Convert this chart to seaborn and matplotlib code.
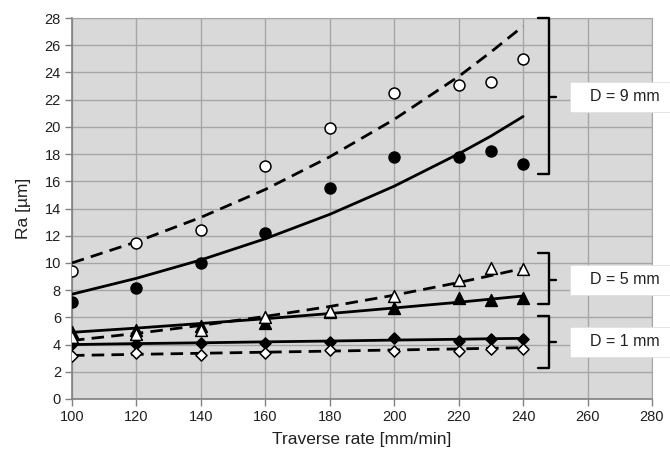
import matplotlib
matplotlib.use("Agg")
import matplotlib.pyplot as plt
import seaborn as sns
from matplotlib.patches import Rectangle

# traverse rate [mm/min]
rate = [100, 120, 140, 160, 180, 200, 220, 230, 240]

# measured Ra [um]
d9_open = [9.4, 11.5, 12.45, 17.1, 19.9, 22.5, 23.1, 23.3, 25.0]
d9_filled = [7.15, 8.15, 10.0, 12.2, 15.5, 17.8, 17.75, 18.25, 17.25]
d5_open = [4.55, 4.75, 5.05, 6.0, 6.47, 7.55, 8.75, 9.65, 9.55]
d5_filled = [4.95, 5.1, 5.35, 5.55, 6.42, 6.67, 7.4, 7.28, 7.42]
d1_open = [3.18, 3.36, 3.26, 3.4, 3.62, 3.5, 3.56, 3.7, 3.68]
d1_filled = [4.02, 4.02, 4.1, 4.14, 4.17, 4.5, 4.26, 4.4, 4.4]

# trend lines at the same rates
d9_open_fit = [10.0, 11.55, 13.35, 15.4, 17.8, 20.55, 23.7, 25.5, 27.4]
d9_filled_fit = [7.7, 8.87, 10.22, 11.78, 13.57, 15.64, 18.02, 19.32, 20.76]
d5_open_fit = [4.3, 4.82, 5.41, 6.07, 6.8, 7.63, 8.56, 9.07, 9.6]
d5_filled_fit = [4.9, 5.21, 5.55, 5.9, 6.28, 6.69, 7.11, 7.34, 7.57]
d1_open_fit = [3.2, 3.28, 3.36, 3.44, 3.52, 3.6, 3.68, 3.73, 3.77]
d1_filled_fit = [4.0, 4.07, 4.13, 4.2, 4.26, 4.33, 4.39, 4.43, 4.46]

labels = ["D = 9 mm", "D = 5 mm", "D = 1 mm"]
# bracket spans (top, tip, bottom) in Ra units
brackets = [(28.0, 22.2, 16.5), (10.7, 8.75, 7.0), (6.1, 4.2, 2.3)]

sns.set_style("whitegrid", {"axes.facecolor": "#d9d9d9", "grid.color": "#a6a6a6"})
plt.rcParams["font.family"] = ["Liberation Sans", "DejaVu Sans"]

fig = plt.figure(figsize=(6.7, 4.55), dpi=100)
ax = fig.add_axes([72 / 670, 1 - 399 / 455, 580 / 670, 381 / 455])

fits = [
    (d9_open_fit, "--"), (d9_filled_fit, "-"),
    (d5_open_fit, "--"), (d5_filled_fit, "-"),
    (d1_open_fit, "--"), (d1_filled_fit, "-"),
]
for vals, ls in fits:
    sns.lineplot(x=rate, y=vals, ax=ax, color="black", lw=2.0,
                 linestyle=ls, dashes=False, zorder=3)
for ln in ax.get_lines():
    if ln.get_linestyle() == "--":
        ln.set_dashes((4.5, 2.6))

# filled markers first, open ones on top
pts = [
    (d9_filled, "o", "black", 62), (d5_filled, "^", "black", 72),
    (d1_filled, "D", "black", 32),
    (d9_open, "o", "white", 62), (d5_open, "^", "white", 72),
    (d1_open, "D", "white", 32),
]
for vals, mk, fc, s in pts:
    sns.scatterplot(x=rate, y=vals, ax=ax, marker=mk, s=s, color=fc,
                    edgecolor="black", linewidth=1.1, zorder=4)

ax.set_xlim(100, 280)
ax.set_ylim(0, 28)
ax.set_xticks(range(100, 281, 20))
ax.set_yticks(range(0, 29, 2))
ax.grid(True, color="#a6a6a6", lw=1)
ax.tick_params(axis="both", labelsize=10.5, length=5, width=1,
               color="#808080", labelcolor="#202020", pad=3,
               left=True, bottom=True)
for side in ["top", "right"]:
    ax.spines[side].set_color("#a6a6a6")
for side in ["left", "bottom"]:
    ax.spines[side].set_color("#808080")
    ax.spines[side].set_linewidth(1.2)
ax.set_xlabel("Traverse rate [mm/min]", fontsize=12.5, labelpad=6,
              color="#202020")
ax.set_ylabel("Ra [µm]", fontsize=12.5, labelpad=10, color="#202020")

# curly brackets and labels on the right
for (top, tip, bot), text in zip(brackets, labels):
    ax.plot([244.6, 248.0, 248.0, 250.2], [top, top, tip, tip], color="black",
            lw=1.7, clip_on=False, zorder=5, solid_joinstyle="round")
    ax.plot([244.6, 248.0, 248.0], [bot, bot, tip], color="black",
            lw=1.7, clip_on=False, zorder=5, solid_joinstyle="round")
    ax.add_patch(Rectangle((254.6, tip - 1.1), 40, 2.2, facecolor="white",
                           edgecolor="#e0e0e0", lw=0.6, clip_on=False, zorder=6))
    ax.text(271.6, tip, text, ha="center", va="center", fontsize=11.5,
            color="#202020", zorder=7, clip_on=False)

fig.savefig("out.png", dpi=100)
